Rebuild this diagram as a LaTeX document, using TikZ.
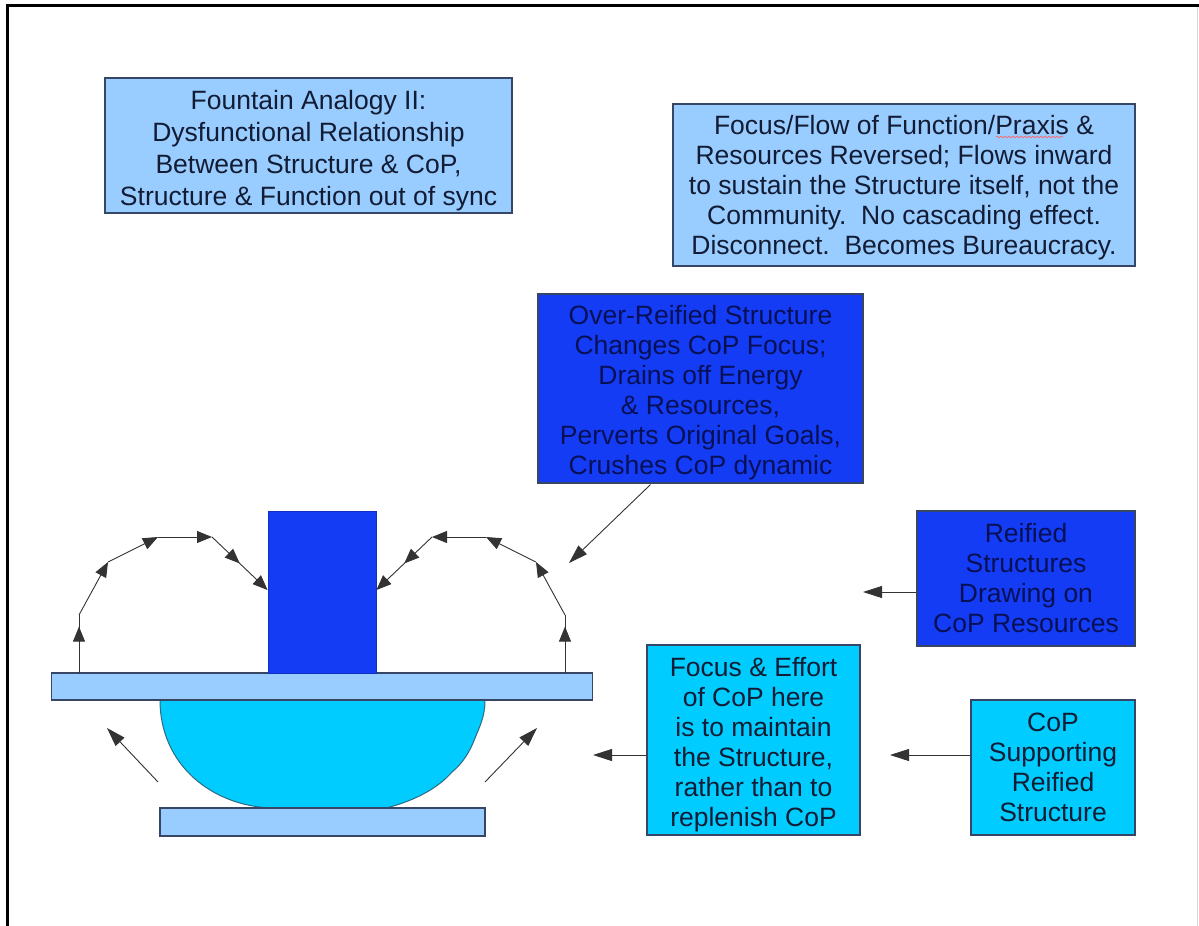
\documentclass[tikz,border=0pt]{standalone}
\usepackage{fontspec}
\setmainfont{Liberation Sans}
\usetikzlibrary{arrows.meta,decorations.markings,decorations.pathmorphing}

\definecolor{paleblue}{RGB}{153,204,255}
\definecolor{deepblue}{RGB}{20,60,245}
\definecolor{skycyan}{RGB}{0,204,255}
\definecolor{edgeblue}{RGB}{55,70,100}
\definecolor{inkdark}{RGB}{18,28,52}
\definecolor{inknavy}{RGB}{8,16,85}

\tikzset{
  card/.style={draw=edgeblue, line width=1.1pt, inner sep=0pt},
  palecard/.style={card, fill=paleblue},
  deepcard/.style={card, fill=deepblue},
  cyancard/.style={card, fill=skycyan},
  cardtext/.style={inner sep=0pt, align=center, text=inkdark,
                   font=\fontsize{26.5}{30}\selectfont},
  deeptext/.style={cardtext, text=inknavy},
  slab/.style={draw=edgeblue, line width=1.1pt, fill=paleblue, inner sep=0pt},
  tip/.style={-{Triangle[length=15pt,width=12pt]}},
  longtip/.style={-{Triangle[length=19pt,width=12pt]}},
  wire/.style={line width=0.9pt, draw=black!80},
  midtip/.style={postaction={decorate, decoration={markings,
      mark=at position #1 with {\arrow{Triangle[length=15pt,width=12pt]}}}}},
}

\begin{document}
\begin{tikzpicture}[x=1pt,y=-1pt]
\useasboundingbox (0,0) rectangle (1199,926);

% page frame
\draw[line width=3pt] (7,926) -- (7,5.5) -- (1199,5.5);
\draw[black!15, line width=1pt] (1197,7) -- (1197,926);

% text boxes
\node[palecard, minimum width=407pt, minimum height=135pt] (title) at (308.5,145.5) {};
\node[cardtext, font=\fontsize{26.5}{32}\selectfont] (titletext)
  at ([yshift=-5pt]title.center)
  {Fountain Analogy II:\\Dysfunctional Relationship\\Between Structure \& CoP,\\Structure \& Function out of sync};

\node[palecard, minimum width=462pt, minimum height=162pt] (flowbox) at (904,185) {};
\node[cardtext] (flowtext) at ([yshift=-3pt]flowbox.center)
  {Focus/Flow of Function/Praxis \&\\Resources Reversed; Flows inward\\to sustain the Structure itself, not the\\Community.\ \ No cascading effect.\\Disconnect.\ \ Becomes Bureaucracy.};
\draw[red!60, line width=0.7pt, decorate,
      decoration={snake, amplitude=0.8pt, segment length=4pt}] (996,137) -- (1063,137);

\node[deepcard, minimum width=325pt, minimum height=189pt] (overbox) at (700.5,388.5) {};
\node[deeptext] (overtext) at ([yshift=-4pt]overbox.center)
  {Over-Reified Structure\\Changes CoP Focus;\\Drains off Energy\\\& Resources,\\Perverts Original Goals,\\Crushes CoP dynamic};

\node[deepcard, minimum width=218pt, minimum height=135pt] (drawbox) at (1026,578.5) {};
\node[deeptext] (drawtext) at (drawbox.center)
  {Reified\\Structures\\Drawing on\\CoP Resources};

\node[cyancard, minimum width=213pt, minimum height=190pt] (effortbox) at (753.5,740) {};
\node[cardtext] (efforttext) at ([yshift=-5pt]effortbox.center)
  {Focus \& Effort\\of CoP here\\is to maintain\\the Structure,\\rather than to\\replenish CoP};

\node[cyancard, minimum width=164pt, minimum height=135pt] (supportbox) at (1053,767.5) {};
\node[cardtext] (supporttext) at (supportbox.center)
  {CoP\\Supporting\\Reified\\Structure};

% the fountain: basin, base, plate and column
\draw[draw=edgeblue!80!cyan, line width=1pt, fill=skycyan]
  (485,700) -- (160,700)
  .. controls (160,765) and (212,806) .. (272,808)
  -- (386,808)
  .. controls (418,800) and (440,786) .. (452,772)
  .. controls (462,764) and (470,752) .. (475,738)
  .. controls (480,726) and (485,716) .. (485,700) -- cycle;
\node[slab, minimum width=325pt, minimum height=28pt] (baseplate) at (322.5,822) {};
\node[slab, minimum width=541pt, minimum height=27pt] (topplate) at (322,686.5) {};
\node[draw=deepblue!80!black, line width=0.8pt, fill=deepblue, inner sep=0pt,
      minimum width=108pt, minimum height=162pt] (column) at (322,592) {};

% left spray
\coordinate (l0) at (79,673);
\coordinate (l1) at (79,615);
\coordinate (l2) at (108,562);
\coordinate (l3) at (158,537);
\coordinate (l4) at (212,537);
\coordinate (l5) at (column.west |- 0,590);
\draw[wire, midtip=0.8] (l0) -- (l1);
\draw[wire, tip] (l1) -- (l2);
\draw[wire, tip] (l2) -- (l3);
\draw[wire, tip] (l3) -- (l4);
\draw[wire, tip, midtip=0.5] (l4) -- (l5);

% right spray
\coordinate (r0) at (565,673);
\coordinate (r1) at (565,615);
\coordinate (r2) at (536,562);
\coordinate (r3) at (486,537);
\coordinate (r4) at (432,537);
\coordinate (r5) at (column.east |- 0,590);
\draw[wire, midtip=0.8] (r0) -- (r1);
\draw[wire, tip] (r1) -- (r2);
\draw[wire, tip] (r2) -- (r3);
\draw[wire, tip] (r3) -- (r4);
\draw[wire, tip, midtip=0.5] (r4) -- (r5);

% inflow beside the basin
\coordinate (inL0) at (158,782);
\coordinate (inL1) at (107,728);
\coordinate (inR0) at (485,782);
\coordinate (inR1) at (537,728);
\draw[wire, longtip] (inL0) -- (inL1);
\draw[wire, longtip] (inR0) -- (inR1);

% pointers from the explanation boxes
\coordinate (overTip) at (569,563);
\coordinate (drawTip) at (863,592);
\coordinate (effortTip) at (593,755);
\coordinate (supportTip) at (890,755);
\draw[wire, longtip] (overbox.south) ++(-50,1) -- (overTip);
\draw[wire, longtip] (drawbox.west |- drawTip) -- (drawTip);
\draw[wire, longtip] (effortbox.west |- effortTip) -- (effortTip);
\draw[wire, longtip] (supportbox.west |- supportTip) -- (supportTip);
\end{tikzpicture}
\end{document}
